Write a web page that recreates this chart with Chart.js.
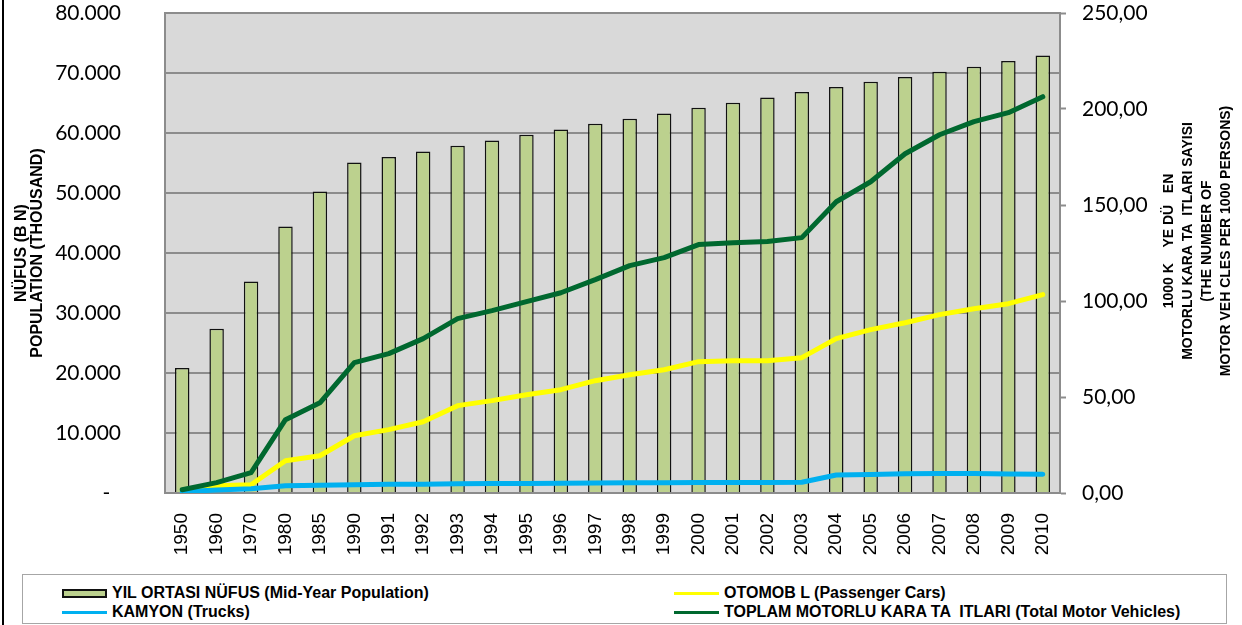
<!DOCTYPE html>
<html>
<head>
<meta charset="utf-8">
<script src="https://cdn.jsdelivr.net/npm/chart.js@4.4.0/dist/chart.umd.min.js"></script>
<style>
  html, body { margin: 0; padding: 0; background: #fff; }
  #wrap { position: relative; width: 1242px; height: 625px; overflow: hidden; }
  #frame { position: absolute; left: 2px; top: 0; width: 2px; height: 625px; background: #000; }
  #box { position: absolute; left: 0; top: 0; width: 1242px; height: 566px; }
  #legend {
    position: absolute; left: 22px; top: 574px; width: 1205px; height: 50px;
    border: 1px solid #a6a6a6; box-sizing: border-box;
    font: bold 16px "Liberation Sans", Arial, sans-serif; color: #000;
  }
  .item { position: absolute; display: flex; align-items: center; height: 18px; white-space: pre; }
  .sym { width: 45px; margin-right: 5px; box-sizing: border-box; }
</style>
</head>
<body>
<div id="wrap">
  <div id="frame"></div>
  <div id="box"><canvas id="chart" width="1242" height="566"></canvas></div>
  <div id="legend"></div>
</div>
<script>
const years = ['1950', '1960', '1970', '1980', '1985', '1990', '1991', '1992', '1993', '1994', '1995', '1996', '1997',
  '1998', '1999', '2000', '2001', '2002', '2003', '2004', '2005', '2006', '2007', '2008', '2009', '2010'];

// thousands
const population = [20830, 27380, 35270, 44430, 50270, 55100, 56000, 56930, 57880, 58770, 59720, 60600, 61550,
  62380, 63270, 64220, 65050, 65930, 66830, 67670, 68550, 69330, 70220, 71050, 72000, 72930];

// per 1000 persons
const cars = [0.7, 3.8, 4.3, 16.8, 19.4, 29.8, 33.0, 37.1, 45.5, 48.1, 51.2, 53.8, 58.5,
  61.6, 64.2, 68.4, 68.9, 68.9, 70.5, 80.4, 85.1, 88.7, 92.9, 96.0, 98.6, 103.3];
const trucks = [0.6, 1.6, 2.2, 3.8, 4.0, 4.3, 4.5, 4.6, 4.8, 4.9, 5.0, 5.1, 5.2,
  5.3, 5.4, 5.5, 5.5, 5.5, 5.6, 9.4, 9.7, 10.0, 10.1, 10.1, 9.9, 9.8];
const totalVehicles = [1.7, 5.4, 10.6, 38.2, 47.0, 67.9, 72.6, 80.4, 90.8, 95.0, 99.7, 104.3, 111.1,
  118.4, 122.6, 129.4, 130.4, 131.0, 133.0, 151.7, 162.1, 176.7, 186.6, 193.4, 198.1, 206.4];

const leftTitle = ['NÜFUS (B N)', 'POPULATION (THOUSAND)'];
const rightTitle = ['1000 K    YE DÜ   EN', 'MOTORLU KARA TA  ITLARI SAYISI', '(THE NUMBER OF', 'MOTOR VEH CLES PER 1000 PERSONS)'];

const gridGray = '#8c8c8c';
const tickFont = { family: 'Lato, "Open Sans", sans-serif', size: 21 };

const plotBg = {
  id: 'plotBg',
  beforeDraw(chart) {
    const { ctx, chartArea: a } = chart;
    ctx.save();
    ctx.fillStyle = '#d9d9d9';
    ctx.fillRect(a.left, a.top, a.right - a.left, a.bottom - a.top);
    ctx.restore();
  }
};

const axisTitles = {
  id: 'axisTitles',
  afterDraw(chart) {
    const { ctx, chartArea: a } = chart;
    const cy = (a.top + a.bottom) / 2;
    ctx.save();
    ctx.fillStyle = '#000';
    ctx.textAlign = 'center';
    ctx.textBaseline = 'middle';
    ctx.font = 'bold 16px "Liberation Sans", Arial, sans-serif';
    leftTitle.forEach((t, i) => {
      ctx.save();
      ctx.translate(22 + i * 16, cy);
      ctx.rotate(-Math.PI / 2);
      ctx.fillText(t, 0, 0);
      ctx.restore();
    });
    ctx.font = 'bold 14px "Liberation Sans", Arial, sans-serif';
    rightTitle.forEach((t, i) => {
      ctx.save();
      ctx.translate(1169 + i * 19, cy - 12);
      ctx.rotate(-Math.PI / 2);
      ctx.fillText(t, 0, 0);
      ctx.restore();
    });
    ctx.restore();
  }
};

function noPad(s) {
  s.paddingTop = 0; s.paddingBottom = 0; s.paddingLeft = 0; s.paddingRight = 0;
}

const chart = new Chart(document.getElementById('chart'), {
  type: 'bar',
  data: {
    labels: years,
    datasets: [
      {
        label: 'YIL ORTASI NÜFUS (Mid-Year Population)',
        data: population,
        backgroundColor: '#bcd18e',
        borderColor: '#111',
        borderWidth: 1.5,
        barPercentage: 0.42,
        categoryPercentage: 1,
        yAxisID: 'y',
        order: 10
      },
      {
        type: 'line',
        label: 'OTOMOB L (Passenger Cars)',
        data: cars,
        borderColor: '#ffff00',
        backgroundColor: '#ffff00',
        borderWidth: 5,
        pointRadius: 0,
        tension: 0,
        borderCapStyle: 'round',
        borderJoinStyle: 'round',
        yAxisID: 'y1',
        order: 3
      },
      {
        type: 'line',
        label: 'KAMYON (Trucks)',
        data: trucks,
        borderColor: '#00b0f0',
        backgroundColor: '#00b0f0',
        borderWidth: 5,
        pointRadius: 0,
        tension: 0,
        borderCapStyle: 'round',
        borderJoinStyle: 'round',
        yAxisID: 'y1',
        order: 2
      },
      {
        type: 'line',
        label: 'TOPLAM MOTORLU KARA TA  ITLARI (Total Motor Vehicles)',
        data: totalVehicles,
        borderColor: '#00682f',
        backgroundColor: '#00682f',
        borderWidth: 5,
        pointRadius: 0,
        tension: 0,
        borderCapStyle: 'round',
        borderJoinStyle: 'round',
        yAxisID: 'y1',
        order: 1
      }
    ]
  },
  options: {
    responsive: false,
    animation: false,
    layout: { padding: { top: 13, left: 0, right: 0, bottom: 0 } },
    plugins: {
      legend: { display: false },
      tooltip: { enabled: false }
    },
    scales: {
      x: {
        offset: true,
        grid: { display: false, drawTicks: false },
        border: { display: true, color: gridGray, width: 2 },
        ticks: {
          color: '#000',
          font: { family: '"Liberation Sans", Arial, sans-serif', size: 19 },
          minRotation: 90,
          maxRotation: 90,
          padding: 20,
          autoSkip: false
        },
        afterFit(s) { s.height = 73; noPad(s); }
      },
      y: {
        position: 'left',
        min: 0,
        max: 80000,
        ticks: {
          stepSize: 10000,
          color: '#000',
          font: tickFont,
          padding: 44,
          callback: (v) => v === 0 ? '-  ' : v.toLocaleString('de-DE')
        },
        grid: { color: gridGray, lineWidth: 2, drawTicks: false },
        border: { display: true, color: gridGray, width: 2 },
        afterFit(s) { s.width = 165; noPad(s); }
      },
      y1: {
        position: 'right',
        min: 0,
        max: 250,
        ticks: {
          stepSize: 50,
          color: '#000',
          font: tickFont,
          padding: 16,
          callback: (v) => Number(v).toFixed(2).replace('.', ',')
        },
        grid: { drawOnChartArea: false, drawTicks: true, tickLength: 6, tickColor: gridGray, tickWidth: 2 },
        border: { display: true, color: gridGray, width: 2 },
        afterFit(s) { s.width = 182; noPad(s); }
      }
    }
  },
  plugins: [plotBg, axisTitles]
});

// legend in two columns, built from the chart's datasets
const legendCols = [62, 674];
const legendRows = [9, 28];
const legendEl = document.getElementById('legend');
chart.data.datasets.forEach((ds, i) => {
  const item = document.createElement('div');
  item.className = 'item';
  item.style.left = (legendCols[i % 2] - 23) + 'px';
  item.style.top = legendRows[Math.floor(i / 2)] + 'px';
  const sym = document.createElement('span');
  sym.className = 'sym';
  if (ds.type === 'line') {
    sym.style.height = '3px';
    sym.style.background = ds.borderColor;
  } else {
    sym.style.height = '9px';
    sym.style.background = ds.backgroundColor;
    sym.style.border = '2px solid #111';
  }
  const txt = document.createElement('span');
  txt.textContent = ds.label;
  item.appendChild(sym);
  item.appendChild(txt);
  legendEl.appendChild(item);
});
</script>
</body>
</html>
